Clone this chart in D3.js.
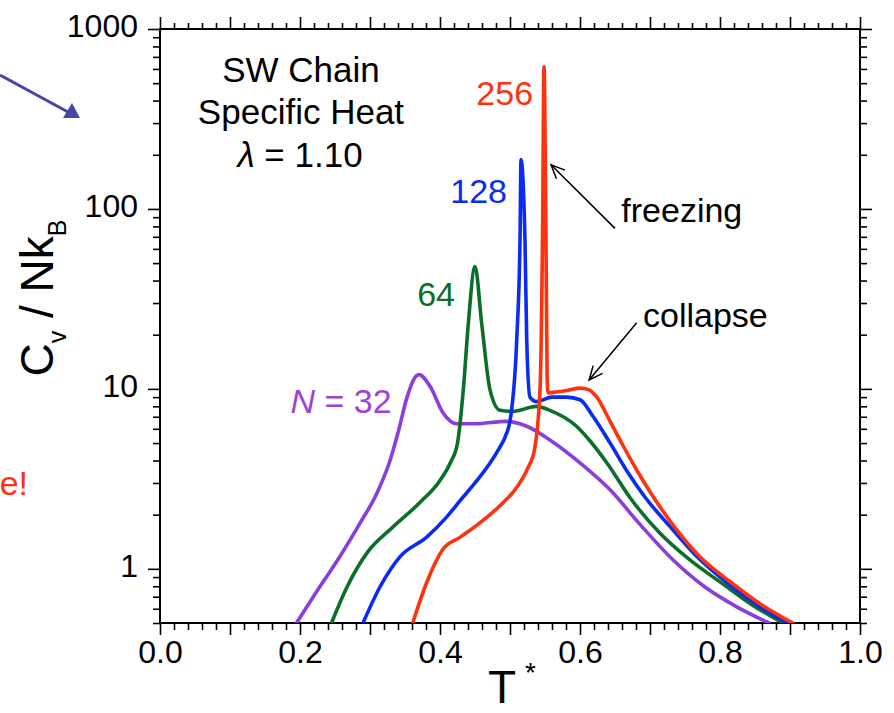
<!DOCTYPE html>
<html>
<head>
<meta charset="utf-8">
<script src="https://cdn.jsdelivr.net/npm/d3@7"></script>
<style>
  html, body { margin: 0; padding: 0; background: #fff; }
  svg { display: block; font-family: "Liberation Sans", Arial, Helvetica, sans-serif; }
</style>
</head>
<body>
<svg id="chart" width="894" height="713"></svg>
<script>
// Reduced temperature T* and specific heat Cv/NkB for each chain length
const tN32  = [0.195, 0.219, 0.257, 0.286, 0.310, 0.329, 0.340, 0.353, 0.362, 0.370, 0.386, 0.404, 0.424, 0.45, 0.495, 0.524, 0.557, 0.60, 0.643, 0.686, 0.733, 0.779, 0.824, 0.87];
const cvN32 = [0.5, 0.70, 1.17, 1.80, 2.64, 4.04, 5.7, 9.0, 11.2, 12.0, 10.3, 7.4, 6.4, 6.4, 6.6, 6.2, 5.2, 3.88, 2.75, 1.76, 1.12, 0.79, 0.615, 0.5];

const tN64  = [0.245, 0.267, 0.296, 0.333, 0.371, 0.40, 0.415, 0.425, 0.4333, 0.4405, 0.45, 0.4595, 0.4714, 0.4857, 0.504, 0.538, 0.557, 0.595, 0.615, 0.64, 0.671, 0.714, 0.757, 0.803, 0.846, 0.89];
const cvN64 = [0.5, 0.79, 1.23, 1.71, 2.33, 3.1, 3.9, 5.0, 9.9, 23.2, 47.9, 23.2, 9.9, 7.6, 7.5, 8.0, 7.6, 6.2, 5.1, 3.8, 2.5, 1.58, 1.12, 0.83, 0.63, 0.5];

const tN128  = [0.29, 0.314, 0.343, 0.381, 0.41, 0.429, 0.45, 0.47, 0.485, 0.493, 0.501, 0.5096, 0.5143, 0.5157, 0.5214, 0.5239, 0.5285, 0.538, 0.56, 0.581, 0.60, 0.619, 0.643, 0.667, 0.693, 0.729, 0.767, 0.81, 0.853, 0.896];
const cvN128 = [0.5, 0.79, 1.17, 1.5, 1.95, 2.4, 3.0, 3.8, 4.7, 5.4, 7.0, 18.7, 67, 188, 67, 18.7, 9.0, 8.5, 9.0, 9.0, 8.7, 7.0, 5.0, 3.5, 2.5, 1.71, 1.17, 0.836, 0.63, 0.5];

const tN256  = [0.361, 0.381, 0.404, 0.429, 0.457, 0.486, 0.51, 0.525, 0.535, 0.5429, 0.5464, 0.5486, 0.5514, 0.553, 0.5545, 0.565, 0.581, 0.60, 0.612, 0.624, 0.643, 0.662, 0.68, 0.70, 0.736, 0.771, 0.814, 0.857, 0.904];
const cvN256 = [0.5, 0.84, 1.28, 1.5, 1.8, 2.25, 2.85, 3.6, 4.6, 9.9, 67, 617, 67, 12, 9.5, 9.6, 9.8, 10.1, 9.9, 9.0, 6.6, 4.8, 3.6, 2.68, 1.69, 1.17, 0.85, 0.64, 0.5];

const seriesColors = ["#8a3fdc", "#0b6e2a", "#0a2cf0", "#ff3210"];
const labelColors  = ["#a23fd8", "#0b6e2a", "#0a2cf0", "#ff3210"];

const xTickValues = [0, 0.2, 0.4, 0.6, 0.8, 1.0];
const yTickValues = [1, 10, 100, 1000];

// Plot frame
const L = 160, R = 860, T = 29, B = 623;
const svg = d3.select("#chart");

const x = d3.scaleLinear().domain([0, 1]).range([L, R]);
const y = d3.scaleLog().domain([0.5, 1000]).range([B, T]);

const fmt = d3.format(".1f");
const xMajor = d3.range(0, 11).map(i => i / 10);
const xMinor = d3.range(0, 51).map(i => i / 50).filter(v => Math.round(v * 50) % 5 !== 0);
const yMinor = [];
[0.1, 1, 10, 100].forEach(dec => {
  for (let k = 2; k <= 9; k++) {
    const v = +(dec * k).toPrecision(3);
    if (v >= 0.5 && v <= 1000) yMinor.push(v);
  }
});

function styleAxis(g) {
  g.select(".domain").remove();
  g.selectAll(".tick line").attr("stroke", "#000").attr("stroke-width", 1.6);
  g.selectAll("text").attr("fill", "#000").style("font-size", "32px")
   .style("font-family", '"Liberation Sans", Arial, Helvetica, sans-serif');
}

// Bottom axis (labels every 0.2)
svg.append("g").attr("transform", `translate(0,${B})`)
  .call(d3.axisBottom(x).tickValues(xMajor).tickSize(12).tickPadding(0)
        .tickFormat(d => xTickValues.some(v => Math.abs(v - d) < 1e-9) ? fmt(d) : ""))
  .call(styleAxis)
  .call(g => g.selectAll("text").attr("y", 40).attr("dy", 0));
svg.append("g").attr("transform", `translate(0,${B})`)
  .call(d3.axisBottom(x).tickValues(xMinor).tickSize(7).tickFormat(""))
  .call(styleAxis);

// Top axis
svg.append("g").attr("transform", `translate(0,${T})`)
  .call(d3.axisTop(x).tickValues(xMajor).tickSize(12).tickFormat(""))
  .call(styleAxis);
svg.append("g").attr("transform", `translate(0,${T})`)
  .call(d3.axisTop(x).tickValues(xMinor).tickSize(6).tickFormat(""))
  .call(styleAxis);

// Left axis
svg.append("g").attr("transform", `translate(${L},0)`)
  .call(d3.axisLeft(y).tickValues(yTickValues).tickSize(12).tickPadding(10)
        .tickFormat(d3.format("d")))
  .call(styleAxis)
  .call(g => g.selectAll("text").attr("dy", "0.24em"));
svg.append("g").attr("transform", `translate(${L},0)`)
  .call(d3.axisLeft(y).tickValues(yMinor).tickSize(7).tickFormat(""))
  .call(styleAxis);

// Right axis
svg.append("g").attr("transform", `translate(${R},0)`)
  .call(d3.axisRight(y).tickValues(yTickValues).tickSize(12).tickFormat(""))
  .call(styleAxis);
svg.append("g").attr("transform", `translate(${R},0)`)
  .call(d3.axisRight(y).tickValues(yMinor).tickSize(7).tickFormat(""))
  .call(styleAxis);

// Frame
svg.append("rect").attr("x", L).attr("y", T).attr("width", R - L).attr("height", B - T)
  .attr("fill", "none").attr("stroke", "#000").attr("stroke-width", 2);

// Curves
svg.append("clipPath").attr("id", "plotClip")
  .append("rect").attr("x", L).attr("y", T).attr("width", R - L).attr("height", B - T);

const series = [
  { t: tN32, cv: cvN32 },
  { t: tN64, cv: cvN64 },
  { t: tN128, cv: cvN128 },
  { t: tN256, cv: cvN256 }
];
const line = d3.line().x(d => x(d[0])).y(d => y(d[1])).curve(d3.curveMonotoneX);

svg.append("g").attr("clip-path", "url(#plotClip)")
  .selectAll("path").data(series).join("path")
  .attr("d", s => line(s.t.map((t, i) => [t, s.cv[i]])))
  .attr("fill", "none")
  .attr("stroke", (s, i) => seriesColors[i])
  .attr("stroke-width", 3.6)
  .attr("stroke-linejoin", "round")
  .attr("stroke-linecap", "round");

// Chain-length labels
const lab = svg.append("g").style("font-size", "34px").attr("text-anchor", "end");
const n32 = lab.append("text").attr("x", x(0.331)).attr("y", y(7.37)).attr("fill", labelColors[0]);
n32.append("tspan").style("font-style", "italic").text("N");
n32.append("tspan").text(" = 32");
lab.append("text").attr("x", x(0.4214)).attr("y", y(29)).attr("fill", labelColors[1]).text("64");
lab.append("text").attr("x", x(0.4957)).attr("y", y(108)).attr("fill", labelColors[2]).text("128");
lab.append("text").attr("x", x(0.533)).attr("y", y(379)).attr("fill", labelColors[3]).text("256");

// Title block
const title = svg.append("g").style("font-size", "35px").attr("text-anchor", "middle").attr("fill", "#000");
title.append("text").attr("x", x(0.2014)).attr("y", y(509)).text("SW Chain");
title.append("text").attr("x", x(0.2014)).attr("y", y(298)).text("Specific Heat");
const lam = title.append("text").attr("x", x(0.2)).attr("y", y(170));
lam.append("tspan").style("font-style", "italic").text("λ");
lam.append("tspan").text(" = 1.10");

// Annotations with open arrowheads
function openArrow(x1, y1, x2, y2) {
  const g = svg.append("g").attr("stroke", "#000").attr("stroke-width", 1.5).attr("fill", "none");
  g.append("line").attr("x1", x1).attr("y1", y1).attr("x2", x2).attr("y2", y2);
  const a = Math.atan2(y2 - y1, x2 - x1), len = 15, spread = 0.42;
  const p1 = [x2 - len * Math.cos(a - spread), y2 - len * Math.sin(a - spread)];
  const p2 = [x2 - len * Math.cos(a + spread), y2 - len * Math.sin(a + spread)];
  g.append("path").attr("d", `M${p1}L${x2},${y2}L${p2}`);
}
openArrow(x(0.65), y(78), x(0.5586), y(176));
openArrow(x(0.681), y(23.3), x(0.613), y(11.2));

const ann = svg.append("g").style("font-size", "34px").attr("fill", "#000");
ann.append("text").attr("x", x(0.659)).attr("y", y(85)).text("freezing");
ann.append("text").attr("x", x(0.69)).attr("y", y(22.1)).text("collapse");

// Axis titles
const yl = svg.append("text").attr("transform", "translate(53,298) rotate(-90)")
  .attr("text-anchor", "middle").style("font-size", "46px").attr("fill", "#000");
yl.append("tspan").text("C");
yl.append("tspan").attr("dy", 13).style("font-size", "25px").text("v");
yl.append("tspan").attr("dy", -13).text(" / Nk");
yl.append("tspan").attr("dy", 13).style("font-size", "25px").text("B");

svg.append("text").attr("x", 488).attr("y", 703).style("font-size", "46px").attr("fill", "#000").text("T");
svg.append("text").attr("x", 525).attr("y", 682).style("font-size", "28px").attr("fill", "#000").text("*");

// Side elements: pointer arrow and trailing red text
const pg = svg.append("g");
pg.append("line").attr("x1", 0).attr("y1", 75).attr("x2", 68).attr("y2", 112)
  .attr("stroke", "#4646aa").attr("stroke-width", 3);
pg.append("path").attr("d", "M80,118 L63,118 L72,103 Z").attr("fill", "#4646aa");
svg.append("text").attr("x", 28).attr("y", 495).attr("text-anchor", "end")
  .style("font-size", "34px").attr("fill", "#ff3210").text("e!");
</script>
</body>
</html>
